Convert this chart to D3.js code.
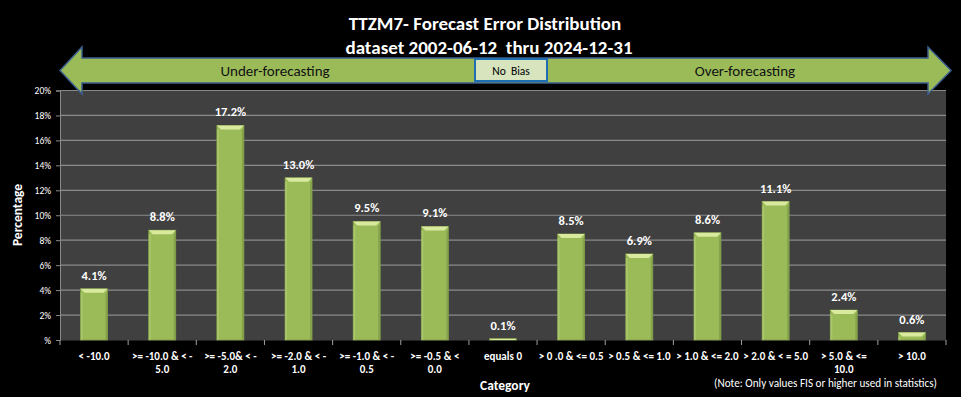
<!DOCTYPE html>
<html>
<head>
<meta charset="utf-8">
<script src="https://cdn.jsdelivr.net/npm/d3@7"></script>
<style>
  body{margin:0;background:#000;}
  svg{display:block;font-family:Carlito,Lato,"Open Sans",sans-serif;}
</style>
</head>
<body>
<svg width="961" height="397"></svg>
<script>
// chart data
const categories=['< -10.0','>= -10.0 & < - 5.0','>= -5.0& < - 2.0','>= -2.0 & < - 1.0','>= -1.0 & < - 0.5','>= -0.5 & < 0.0','equals 0','> 0 .0 & <= 0.5','> 0.5 & <= 1.0','> 1.0 & <= 2.0','> 2.0 & < = 5.0','> 5.0 & <= 10.0','> 10.0'];
const labelLines=[['< -10.0'],['>= -10.0 & < -','5.0'],['>= -5.0& < -','2.0'],['>= -2.0 & < -','1.0'],['>= -1.0 & < -','0.5'],['>= -0.5 & <','0.0'],['equals 0'],['> 0 .0 & <= 0.5'],['> 0.5 & <= 1.0'],['> 1.0 & <= 2.0'],['> 2.0 & < = 5.0'],['> 5.0 & <=','10.0'],['> 10.0']];
const values=[4.1,8.8,17.2,13.0,9.5,9.1,0.1,8.5,6.9,8.6,11.1,2.4,0.6];
const yTicks=[0,2,4,6,8,10,12,14,16,18,20];

const svg=d3.select('svg');
const m={left:60,right:946,top:90.5,bottom:340};

const x=d3.scaleBand().domain(categories).range([m.left,m.right]).paddingInner(0).paddingOuter(0);
const y=d3.scaleLinear().domain([0,20]).range([m.bottom,m.top]);

// titles
svg.append('text').attr('x',485).attr('y',30).attr('text-anchor','middle')
  .attr('fill','#fff').attr('font-weight','bold').attr('font-size',19)
  .text('TTZM7- Forecast Error Distribution');
svg.append('text').attr('x',489).attr('y',54).attr('text-anchor','middle')
  .attr('fill','#fff').attr('font-weight','bold').attr('font-size',19)
  .attr('xml:space','preserve')
  .text('dataset 2002-06-12  thru 2024-12-31');

// plot background
svg.append('rect').attr('x',m.left).attr('y',m.top)
  .attr('width',m.right-m.left).attr('height',m.bottom-m.top).attr('fill','#404040');

// grid lines
svg.append('g').selectAll('line').data(yTicks.filter(d=>d>0)).enter().append('line')
  .attr('x1',m.left).attr('x2',m.right)
  .attr('y1',d=>y(d)).attr('y2',d=>y(d))
  .attr('stroke','#8a8a8a').attr('stroke-width',1.2);

// y axis
const yAxis=svg.append('g').attr('transform',`translate(${m.left},0)`)
  .call(d3.axisLeft(y).tickValues(yTicks).tickSize(4).tickPadding(5)
    .tickFormat(d=>d===0?'%':d+'%'));
yAxis.select('.domain').attr('stroke','#8a8a8a');
yAxis.selectAll('.tick line').attr('stroke','#8a8a8a');
yAxis.selectAll('.tick text').attr('fill','#fff').attr('font-size',9.5)
  .attr('font-family','Carlito,Lato,sans-serif');

// x axis
const xAxis=svg.append('g').attr('transform',`translate(0,${m.bottom})`)
  .call(d3.axisBottom(x).tickSize(0).tickFormat(''));
xAxis.select('.domain').attr('stroke','#222');
const bounds=categories.map(c=>x(c)).concat([m.right]);
xAxis.selectAll('.bnd').data(bounds).enter().append('line')
  .attr('x1',d=>d).attr('x2',d=>d).attr('y1',0).attr('y2',5)
  .attr('stroke','#a0a0a0');

// x tick labels
const xl=svg.append('g').selectAll('text').data(categories).enter().append('text')
  .attr('x',d=>x(d)+x.bandwidth()/2).attr('y',359.5)
  .attr('text-anchor','middle').attr('fill','#fff').attr('font-size',11)
  .attr('font-weight','bold');
xl.each(function(d,i){
  const t=d3.select(this);
  labelLines[i].forEach((ln,j)=>{
    t.append('tspan').attr('x',x(d)+x.bandwidth()/2).attr('dy',j===0?0:13.5).text(ln);
  });
});

// bars with bevel
const bw=27;
const bars=svg.append('g').selectAll('g').data(values).enter().append('g')
  .attr('transform',(d,i)=>`translate(${x(categories[i])+x.bandwidth()/2-bw/2},0)`);
bars.append('rect').attr('x',0).attr('width',bw)
  .attr('y',d=>y(d)).attr('height',d=>y(0)-y(d))
  .attr('fill','#9bbb59').attr('stroke','#7d9a45').attr('stroke-width',0.8);
bars.append('path')
  .attr('d',d=>{const t=y(d),h=Math.min(4,y(0)-y(d));
    return `M0,${t}L${bw},${t}L${bw-h},${t+h}L${h},${t+h}Z`;})
  .attr('fill','#d9ea9f');
bars.append('rect').attr('x',0).attr('width',2)
  .attr('y',d=>y(d)+Math.min(4,y(0)-y(d))).attr('height',d=>Math.max(0,y(0)-y(d)-4))
  .attr('fill','#b4cf78').attr('opacity',0.6);
bars.append('rect').attr('x',bw-2).attr('width',2)
  .attr('y',d=>y(d)+Math.min(4,y(0)-y(d))).attr('height',d=>Math.max(0,y(0)-y(d)-4))
  .attr('fill','#7f9a48').attr('opacity',0.7);

// data labels
svg.append('g').selectAll('text').data(values).enter().append('text')
  .attr('x',(d,i)=>x(categories[i])+x.bandwidth()/2).attr('y',d=>y(d)-9)
  .attr('text-anchor','middle').attr('fill','#fff').attr('font-weight','bold')
  .attr('font-size',12.5).text(d=>d.toFixed(1)+'%');

// axis titles
svg.append('text').attr('x',505).attr('y',390).attr('text-anchor','middle')
  .attr('fill','#fff').attr('font-weight','bold').attr('font-size',13.5).text('Category');
svg.append('text').attr('transform','translate(22,215) rotate(-90)').attr('text-anchor','middle')
  .attr('fill','#fff').attr('font-weight','bold').attr('font-size',13.5).text('Percentage');
svg.append('text').attr('x',937).attr('y',387).attr('text-anchor','end')
  .attr('fill','#fff').attr('font-size',11.2)
  .text('(Note: Only values FIS or higher used in statistics)');

// bias arrow
const arrow=svg.append('g');
const ay=70.5;
arrow.append('path')
  .attr('d',`M60,${ay} L82,47 L82,58 L928,58 L928,47 L951,${ay} L928,94 L928,83 L82,83 L82,94 Z`)
  .attr('fill','#9bbb59').attr('stroke','#3d5f8f').attr('stroke-width',1.5)
  .attr('stroke-linejoin','miter');
arrow.append('rect').attr('x',475).attr('y',59).attr('width',72).attr('height',22)
  .attr('fill','#d7e4bd').attr('stroke','#1f6db3').attr('stroke-width',2);
arrow.append('text').attr('x',511).attr('y',74.5).attr('text-anchor','middle')
  .attr('fill','#000').attr('font-size',11.5).attr('xml:space','preserve').text('No  Bias');
arrow.append('text').attr('x',275).attr('y',76).attr('text-anchor','middle')
  .attr('fill','#111').attr('font-size',15).text('Under-forecasting');
arrow.append('text').attr('x',745).attr('y',76).attr('text-anchor','middle')
  .attr('fill','#111').attr('font-size',15).text('Over-forecasting');
</script>
</body>
</html>
